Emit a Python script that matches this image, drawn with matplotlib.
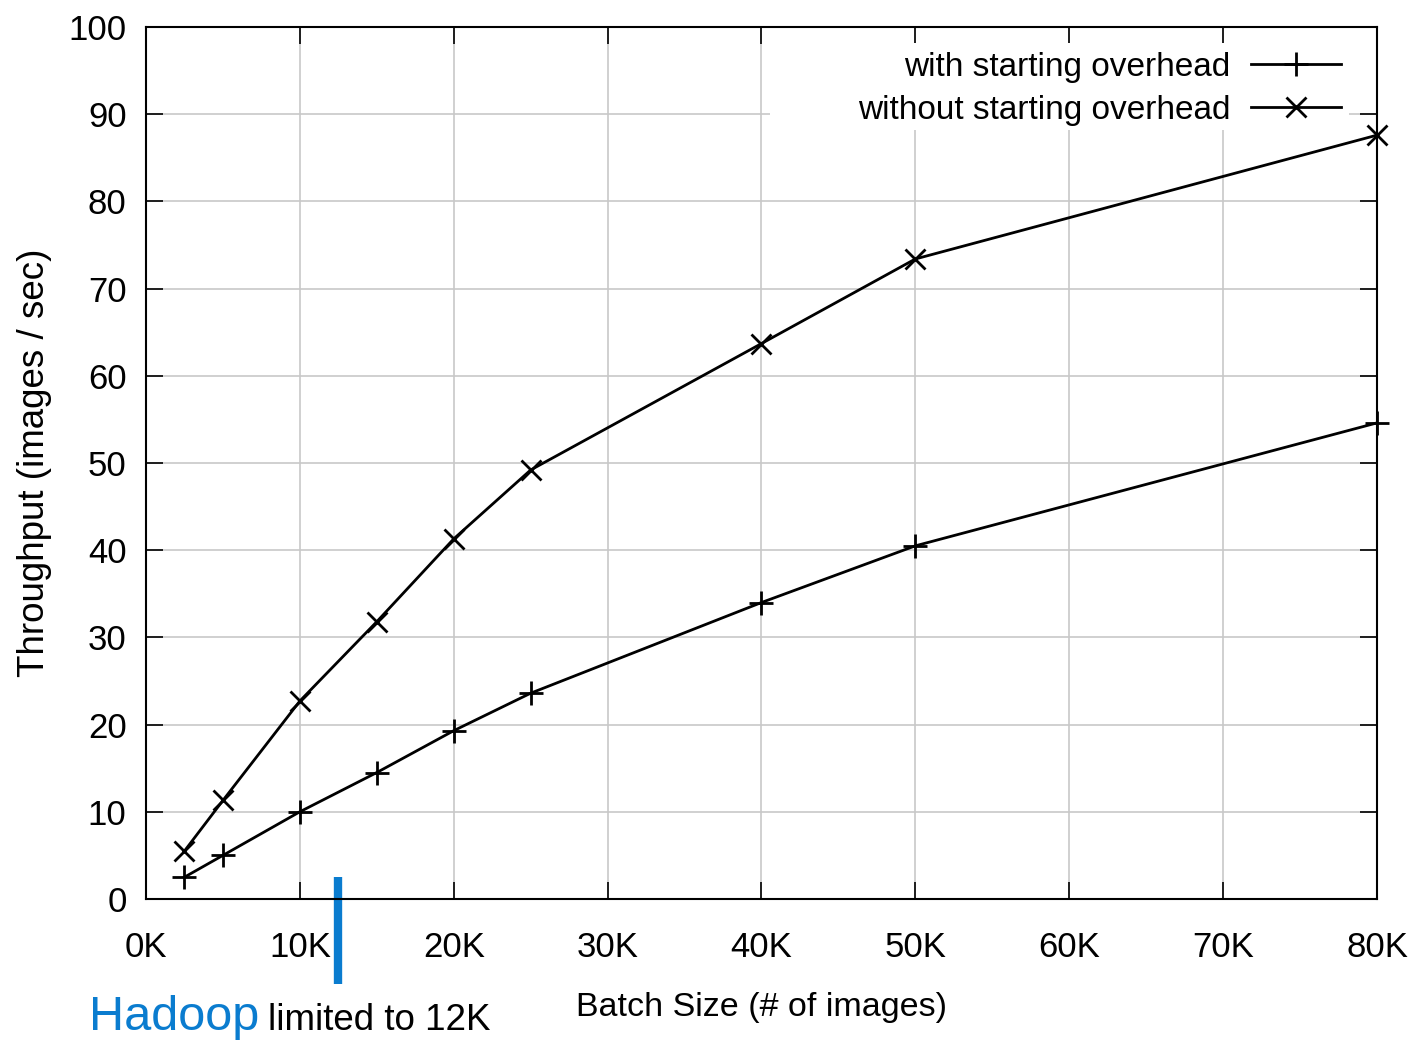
import numpy as np
import matplotlib.pyplot as plt
import matplotlib.transforms as mtransforms
from matplotlib.patches import Rectangle

plt.rcParams['font.family'] = ['Liberation Sans', 'DejaVu Sans']

batch_k = [2.5, 5, 10, 15, 20, 25, 40, 50, 80]
with_overhead = [2.5, 5.0, 10.0, 14.5, 19.3, 23.6, 34.0, 40.5, 54.6]
without_overhead = [5.5, 11.3, 22.7, 31.8, 41.3, 49.2, 63.7, 73.4, 87.6]
xticks = [0, 10, 20, 30, 40, 50, 60, 70, 80]
xtick_labels = ['%dK' % v for v in xticks]
yticks = [0, 10, 20, 30, 40, 50, 60, 70, 80, 90, 100]
hadoop_limit_k = 12.5

fig = plt.figure(figsize=(14.13, 10.4), dpi=100)
ax = fig.add_axes([0.1033, 0.1356, 0.8712, 0.8384])

ax.plot(batch_k, with_overhead, color='black', lw=2, marker='+', ms=17, mew=2,
        label='with starting overhead', zorder=3, clip_on=False)
ax.plot(batch_k, without_overhead, color='black', lw=2, marker='x', ms=14, mew=2,
        label='without starting overhead', zorder=3, clip_on=False)

ax.set_xlim(0, 80)
ax.set_ylim(0, 100)
ax.set_xticks(xticks)
ax.set_xticklabels(xtick_labels)
ax.set_yticks(yticks)
ax.tick_params(direction='in', length=12, width=1.2, top=True, right=True,
               labelsize=25)
ax.tick_params(axis='x', pad=23)
ax.tick_params(axis='y', pad=14)
ax.grid(True, color='#c8c8c8', lw=1.2)
ax.set_axisbelow(True)
for s in ax.spines.values():
    s.set_linewidth(1.5)
    s.set_zorder(4)

ax.set_xlabel('Batch Size (# of images)', fontsize=24.5, labelpad=20)
ax.set_ylabel('Throughput (images / sec)', fontsize=26.5, labelpad=12)

# white key box hiding the grid, like gnuplot
ax.add_patch(Rectangle((0.507, 0.882), 0.47, 0.1, transform=ax.transAxes,
                       facecolor='white', edgecolor='none', zorder=1.5))
leg = ax.legend(loc='upper right', bbox_to_anchor=(0.976, 0.979), fontsize=24,
                markerfirst=False, handlelength=2.7, handletextpad=0.6,
                labelspacing=0.35, borderpad=0.2, borderaxespad=0, frameon=False)

# Hadoop limit marker, below the axis
trans = mtransforms.blended_transform_factory(ax.transData, ax.transAxes)
ax.plot([hadoop_limit_k, hadoop_limit_k], [0.025, -0.098], color='#0a7ccf',
        lw=6, transform=trans, clip_on=False, solid_capstyle='butt')
fig.text(0.063, 0.0095, 'Hadoop', color='#0a7ccf', fontsize=35, va='baseline')
fig.text(0.19, 0.0095, 'limited to 12K', color='black', fontsize=26.5, va='baseline')

fig.savefig('out.png', dpi=100)
